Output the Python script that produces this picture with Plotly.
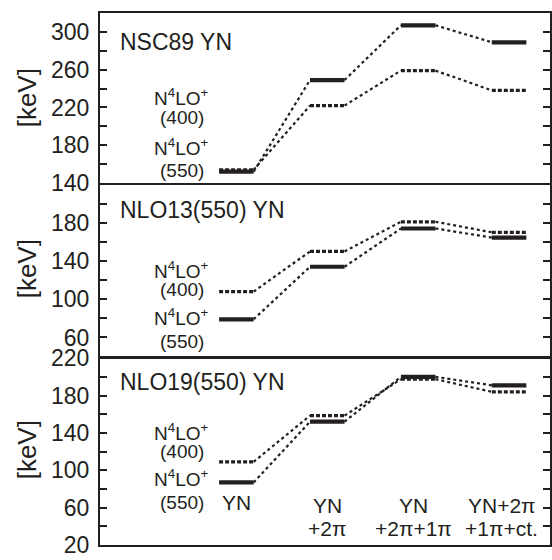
import plotly.graph_objects as go

# ---------------- data ----------------
stages = ["YN", "YN+2π", "YN+2π+1π", "YN+2π+1π+ct."]
panel_titles = ["NSC89 YN", "NLO13(550) YN", "NLO19(550) YN"]

# N4LO+(550) -> solid levels, N4LO+(400) -> dashed levels   [keV]
nsc89_550 = [152, 249, 307, 289]
nsc89_400 = [154, 222, 259, 238]
nlo13_550 = [79, 134, 174, 164.5]
nlo13_400 = [108, 150, 181, 170]
nlo19_550 = [87, 152, 200, 191]
nlo19_400 = [109, 158.5, 197.5, 184]

y_ranges = [[140, 320], [40, 219.9], [20, 220]]
tick_start, tick_major, tick_minor = 20, 40, 20

panels = [
    (nsc89_550, nsc89_400),
    (nlo13_550, nlo13_400),
    (nlo19_550, nlo19_400),
]

# ---------------- layout geometry ----------------
W, H = 552, 560
L, R, T, B = 100, 0, 13, 15
plot_h = H - T - B
LW = 2.3
OVERLAP = 1.6
panel_px = [170, 172, 190]  # heights top->bottom
INK = "#231f20"
FONT = "Liberation Sans, Arial, Helvetica, sans-serif"
HALF = 0.19
XRANGE = [-1.5, 3.45]

doms = []
top = 1.0
for j, h in enumerate(panel_px):
    bot = top - h / plot_h
    doms.append([max(bot, 0.0), top])
    top = bot - OVERLAP / plot_h  # let neighbouring frame lines merge


def py2paper(py):
    return (H - B - py) / plot_h


def px2paper(px):
    return (px - L) / (W - L - R)


fig = go.Figure()


def level_xy(vals):
    xs, ys = [], []
    for i, v in enumerate(vals):
        xs += [i - HALF, i + HALF, None]
        ys += [v, v, None]
    return xs, ys


def conn_xy(vals):
    xs, ys = [], []
    for i in range(len(vals) - 1):
        xs += [i + HALF, i + 1 - HALF, None]
        ys += [vals[i], vals[i + 1], None]
    return xs, ys


for k, (s550, s400) in enumerate(panels):
    xa = "x" if k == 0 else f"x{k+1}"
    ya = "y" if k == 0 else f"y{k+1}"
    for vals, lvl_dash, lvl_w in ((s400, "4px,2px", 3.2), (s550, "solid", 4.2)):
        cx, cy = conn_xy(vals)
        fig.add_trace(go.Scatter(x=cx, y=cy, mode="lines", xaxis=xa, yaxis=ya,
                                 line=dict(color=INK, width=2.2, dash="3px,3px"),
                                 showlegend=False, hoverinfo="skip"))
        lx, ly = level_xy(vals)
        fig.add_trace(go.Scatter(x=lx, y=ly, mode="lines", xaxis=xa, yaxis=ya,
                                 line=dict(color=INK, width=lvl_w, dash=lvl_dash),
                                 showlegend=False, hoverinfo="skip"))

layout = dict(
    width=W, height=H, autosize=False,
    margin=dict(l=L, r=R, t=T, b=B, pad=0),
    paper_bgcolor="white", plot_bgcolor="white",
    font=dict(family=FONT, color=INK),
    showlegend=False,
)
for k in range(3):
    xk = "xaxis" if k == 0 else f"xaxis{k+1}"
    yk = "yaxis" if k == 0 else f"yaxis{k+1}"
    ya = "y" if k == 0 else f"y{k+1}"
    xa = "x" if k == 0 else f"x{k+1}"
    layout[xk] = dict(domain=[0, 1], range=XRANGE, anchor=ya,
                      showline=True, linewidth=LW, linecolor=INK, mirror=True,
                      ticks="", showticklabels=False, showgrid=False, zeroline=False)
    layout[yk] = dict(domain=doms[k], range=y_ranges[k], anchor=xa,
                      tickmode="linear", tick0=tick_start, dtick=tick_major,
                      ticks="inside", ticklen=7, tickwidth=1.5, tickcolor=INK,
                      minor=dict(tick0=tick_start, dtick=tick_minor, ticks="inside",
                                 ticklen=7, tickwidth=1.5, tickcolor=INK, showgrid=False),
                      showline=True, linewidth=LW, linecolor=INK, mirror="ticks",
                      showgrid=False, zeroline=False,
                      tickfont=dict(size=23, family=FONT, color=INK),
                      ticklabelstandoff=4)
fig.update_layout(**layout)

ann = []
panel_centers = [98, 269, 450]
for c in panel_centers:
    ann.append(dict(text="[keV]", xref="paper", yref="paper", x=px2paper(27), y=py2paper(c),
                    textangle=-90, showarrow=False, xanchor="center", yanchor="middle",
                    font=dict(size=26, family=FONT, color=INK)))
title_y = [42, 210, 382]
for t, yy in zip(panel_titles, title_y):
    ann.append(dict(text=t, xref="paper", yref="paper", x=px2paper(118), y=py2paper(yy),
                    showarrow=False, xanchor="left", yanchor="middle",
                    font=dict(size=23, family=FONT, color=INK)))
lab_rows = [[97, 118, 147, 170], [270, 289, 317, 341], [432, 451, 478, 502]]
lab_txt = ["N<sup>4</sup>LO<sup>+</sup>", "(400)", "N<sup>4</sup>LO<sup>+</sup>", "(550)"]
for rows in lab_rows:
    for txt, yy in zip(lab_txt, rows):
        ann.append(dict(text=txt, xref="paper", yref="paper", x=px2paper(182), y=py2paper(yy),
                        showarrow=False, xanchor="center", yanchor="middle",
                        font=dict(size=19, family=FONT, color=INK)))
stage_lines = [("YN", ""), ("YN", "+2π"), ("YN", "+2π+1π"), ("YN+2π", "+1π+ct.")]
stage_shift = [0, 0, -0.05, -0.08]
for i, (l1, l2) in enumerate(stage_lines):
    if i == 0:
        ann.append(dict(text=l1, xref="x3", yref="paper", x=i, y=py2paper(502),
                        showarrow=False, xanchor="center", yanchor="middle",
                        font=dict(size=21, family=FONT, color=INK)))
        continue
    ann.append(dict(text=l1, xref="x3", yref="paper", x=i + stage_shift[i], y=py2paper(505),
                    showarrow=False, xanchor="center", yanchor="middle",
                    font=dict(size=21, family=FONT, color=INK)))
    ann.append(dict(text=l2, xref="x3", yref="paper", x=i + stage_shift[i], y=py2paper(528),
                    showarrow=False, xanchor="center", yanchor="middle",
                    font=dict(size=21, family=FONT, color=INK)))
fig.update_layout(annotations=ann)

fig.write_html("out.html", config={"displayModeBar": False},
               post_script="document.body.style.margin='0';")
